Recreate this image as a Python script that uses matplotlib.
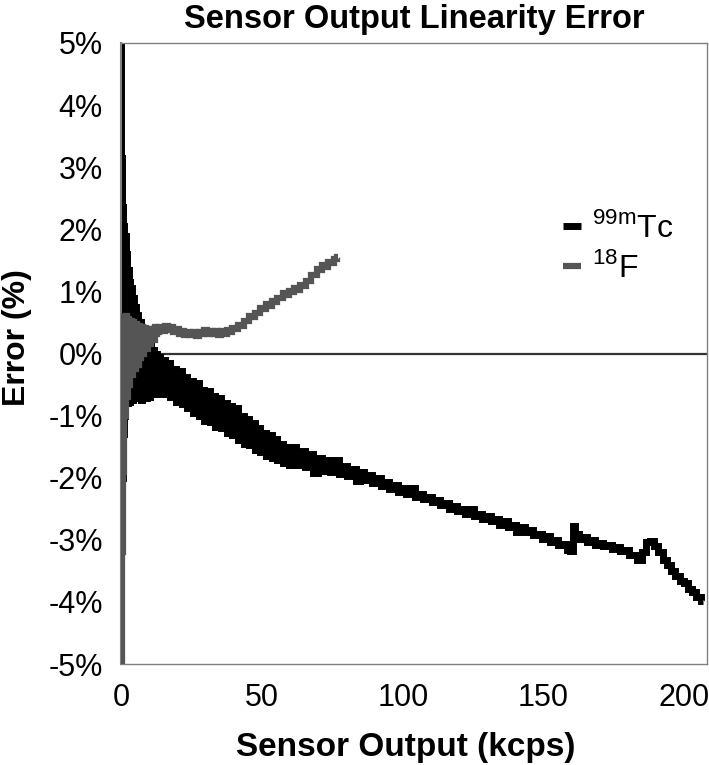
import matplotlib
matplotlib.use("Agg")
import matplotlib.pyplot as plt

plt.rcParams['font.family'] = ['Liberation Sans', 'DejaVu Sans']

# ---------------- data ----------------
title = "Sensor Output Linearity Error"
x_label = "Sensor Output (kcps)"
y_label = "Error (%)"
series_names = [r'$^{\mathregular{99m}}$Tc', r'$^{\mathregular{18}}$F']

x_ticks = [0, 50, 100, 150, 200]
y_ticks = [-5, -4, -3, -2, -1, 0, 1, 2, 3, 4, 5]
y_tick_labels = ['-5%', '-4%', '-3%', '-2%', '-1%', '0%', '1%', '2%', '3%', '4%', '5%']

tc_x = [0.1, 0.2, 0.35, 0.5, 0.65, 0.8, 1.0, 1.2, 1.5, 1.7, 2.0, 2.3, 2.6, 2.9, 3.2,
        3.5, 3.8, 4.1, 4.5, 4.8, 5.2, 5.6, 6.0, 6.4, 6.8, 7.2, 7.6, 8.0, 8.5, 9.0,
        9.5, 10.0, 10.5, 11.0, 11.5, 12.0, 12.5, 13.0, 13.5,
        14, 15, 16, 17, 18, 19, 20, 21, 22, 23, 24, 25, 26, 27, 28, 29, 30, 31, 32,
        33, 34, 35, 36, 37, 38, 39, 40, 41, 42, 43, 44, 45, 46, 47, 48, 49, 50, 51,
        52, 53, 54, 55, 56, 57, 58, 59, 60,
        61.5, 63, 64.5, 66, 67.5, 69, 70.5, 72, 73.5, 75, 76.5, 78, 79.5, 81, 82.5,
        84, 85.5, 87, 88.5, 90, 91.5, 93, 94.5, 96, 97.5, 99, 100.5, 102, 103.5,
        105, 106.5, 108, 109.5, 111, 112.5, 114, 115.5, 117, 118.5, 120, 121.5, 123,
        124.5, 126, 127.5, 129, 130.5, 132, 133.5, 135, 136.5, 138, 139.5, 141,
        142.5, 144, 145.5, 147, 148.5, 150, 151.5, 153, 154.5, 156, 157.5, 159, 160,
        160.7, 161.8, 163, 164.5, 166, 167.5, 169, 170.5, 172, 173.5, 175, 176.5,
        178, 179.5, 181, 182.5, 184, 185.5, 187, 188.5, 190, 191.5, 193, 194.5, 196,
        197.5, 199, 200.5, 202, 203.5, 205, 206.5]
tc_y = [5.0, -3.0, 3.2, -2.0, 2.4, -1.3, 2.1, -1.0, 1.9, -0.85, 1.6, -0.8, 1.35,
        -0.78, 1.2, -0.7, 1.05, -0.75, 0.9, -0.7, 0.75, -0.72, 0.62, -0.68, 0.5,
        -0.75, 0.4, -0.68, 0.3, -0.72, 0.2, -0.7, 0.12, -0.66, 0.05, -0.64, 0.0,
        -0.66, -0.05,
        -0.58, -0.1, -0.66, -0.15, -0.7, -0.25, -0.78, -0.28, -0.82, -0.38, -0.88,
        -0.45, -0.95, -0.48, -1.0, -0.58, -1.08, -0.6, -1.1, -0.68, -1.18, -0.72,
        -1.2, -0.8, -1.28, -0.85, -1.32, -0.88, -1.4, -1.0, -1.45, -1.05, -1.48,
        -1.12, -1.55, -1.2, -1.58, -1.28, -1.65, -1.32, -1.68, -1.38, -1.72, -1.45,
        -1.76, -1.5, -1.8,
        -1.50, -1.80, -1.57, -1.83, -1.62, -1.93, -1.68, -1.89, -1.72, -1.91, -1.72,
        -1.94, -1.81, -1.97, -1.86, -2.05, -1.9, -2.04, -1.96, -2.09, -2.01, -2.14,
        -2.07, -2.18, -2.12, -2.23, -2.17, -2.27, -2.16, -2.31, -2.27, -2.35, -2.31,
        -2.39, -2.36, -2.44, -2.41, -2.5, -2.46, -2.54, -2.5, -2.58, -2.5, -2.62,
        -2.58, -2.66, -2.62, -2.7, -2.66, -2.76, -2.7, -2.8, -2.76, -2.88, -2.8,
        -2.88, -2.85, -2.93, -2.9, -2.98, -2.94, -3.03, -3.0, -3.08, -3.06, -3.16,
        -3.18, -2.78, -2.9, -2.98, -2.96, -3.04, -3.0, -3.08, -3.05, -3.1, -3.08,
        -3.14, -3.12, -3.18, -3.16, -3.24, -3.24, -3.32, -3.2, -3.04, -3.02, -3.1,
        -3.2, -3.32, -3.4, -3.5, -3.58, -3.66, -3.7, -3.79, -3.84, -3.92, -3.98]

f_x = [0.1, 0.2, 0.35, 0.5, 0.7, 0.9, 1.2, 1.5, 1.8, 2.2, 2.6, 3.0, 3.5, 4.0, 4.5,
       5.0, 5.5, 6.0, 6.5, 7.0, 7.5, 8.0, 8.6, 9.2, 9.8, 10.4, 11.0, 11.6, 12.2, 12.8,
       13, 14, 15, 16, 17, 18, 19, 20, 21, 22, 23, 24, 25, 26, 27, 28, 29, 30, 31,
       32, 33, 34, 35, 36, 37, 38, 39, 40, 41, 42, 43, 44, 45, 46, 47, 48, 49, 50,
       51, 52, 53, 54, 55, 56, 57, 58, 59, 60, 61, 62, 63, 64, 65, 66, 67, 68, 69,
       70, 71, 72, 73, 74, 75, 76, 77]
f_y = [0.6, -5.0, 0.58, -3.2, 0.6, -1.9, 0.58, -1.0, 0.6, -0.7, 0.56, -0.5, 0.52,
       -0.35, 0.5, -0.25, 0.47, -0.18, 0.45, -0.08, 0.43, 0.0, 0.41, 0.08, 0.4,
       0.15, 0.4, 0.22, 0.42, 0.32,
       0.34, 0.42, 0.37, 0.44, 0.38, 0.42, 0.34, 0.39, 0.32, 0.37, 0.3, 0.35, 0.29,
       0.34, 0.28, 0.35, 0.31, 0.38, 0.32, 0.37, 0.31, 0.36, 0.3, 0.36, 0.32, 0.38,
       0.34, 0.41, 0.39, 0.46, 0.45, 0.53, 0.52, 0.6, 0.58, 0.66, 0.65, 0.73, 0.72,
       0.79, 0.77, 0.84, 0.83, 0.9, 0.89, 0.97, 0.94, 1.01, 0.99, 1.06, 1.03, 1.1,
       1.08, 1.17, 1.16, 1.26, 1.27, 1.36, 1.35, 1.42, 1.4, 1.47, 1.45, 1.52, 1.55]

# ---------------- plot ----------------
fig = plt.figure(figsize=(7.09, 7.65), dpi=100)
ax = fig.add_axes([0.1707, 0.132, 0.8265, 0.8118])

ax.axhline(0, color='#333333', lw=1.6, zorder=1)
ax.plot(tc_x, tc_y, color='#000000', lw=5, drawstyle='steps-mid',
        solid_joinstyle='miter', solid_capstyle='butt',
        label=series_names[0], zorder=2)
ax.plot(f_x, f_y, color='#555555', lw=4.5, drawstyle='steps-mid',
        solid_joinstyle='miter', solid_capstyle='butt',
        label=series_names[1], zorder=3)

ax.set_xlim(0, 208)
ax.set_ylim(-5, 5)
ax.set_xticks(x_ticks)
ax.set_xticklabels([str(t) for t in x_ticks])
ax.set_yticks(y_ticks)
ax.set_yticklabels(y_tick_labels)
ax.tick_params(length=0, labelsize=22)
ax.tick_params(axis='x', pad=14)
ax.tick_params(axis='y', pad=13)

for s in ax.spines.values():
    s.set_color('#808080')
    s.set_linewidth(1.0)
ax.spines['left'].set_linewidth(1.5)

ax.set_title(title, fontsize=23.5, fontweight='bold', pad=11)
ax.set_xlabel(x_label, fontsize=24, fontweight='bold', labelpad=10)
ax.xaxis.set_label_coords(0.485, -0.11)
ax.set_ylabel(y_label, fontsize=23, fontweight='bold')
ax.yaxis.set_label_coords(-0.152, 0.525)

leg = ax.legend(loc='upper left', bbox_to_anchor=(0.755, 0.728), frameon=False,
                fontsize=23, handlelength=0.55, handletextpad=0.35,
                labelspacing=0.25, borderpad=0, borderaxespad=0)

fig.savefig('out.png', dpi=100)
